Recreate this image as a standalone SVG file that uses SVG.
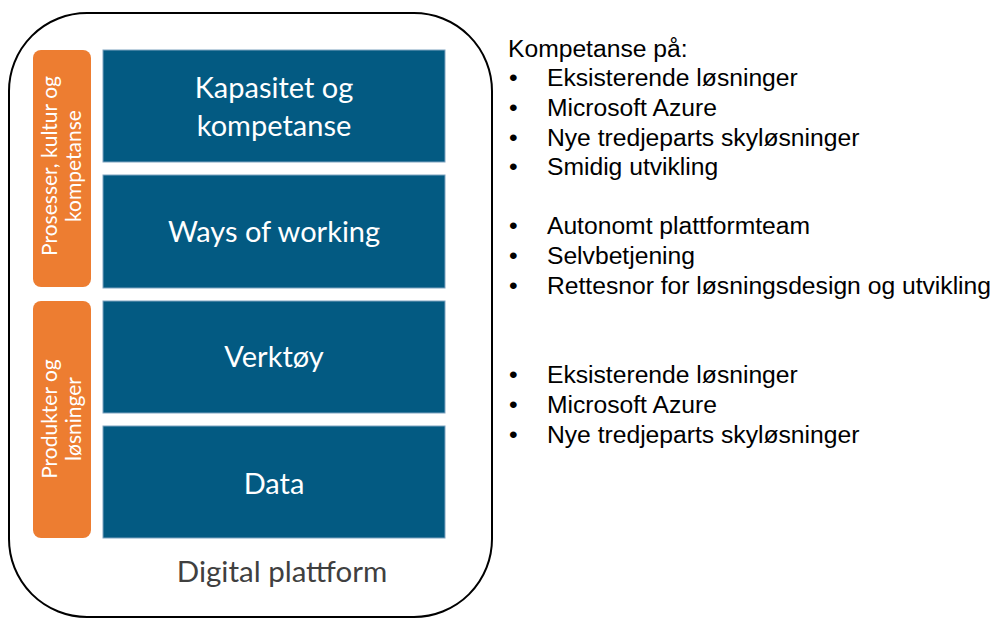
<svg xmlns="http://www.w3.org/2000/svg" width="993" height="618" viewBox="0 0 993 618">
  <style>
    .frame { fill: #ffffff; stroke: #000000; stroke-width: 2; }
    .side { fill: #ED7D31; }
    .layer { fill: #035A82; stroke: #7FA3C0; stroke-width: 1; }
    .layer-text { font-family: Lato, "Open Sans", sans-serif; font-size: 29px; fill: #ffffff; text-anchor: middle; }
    .side-text { font-family: Lato, "Open Sans", sans-serif; font-size: 21px; fill: #ffffff; text-anchor: middle; }
    .caption { font-family: Lato, "Open Sans", sans-serif; font-size: 29.5px; fill: #404040; text-anchor: middle; }
    .list { font-family: "Liberation Sans", Arial, sans-serif; font-size: 23.5px; fill: #000000; }
  </style>
  <rect width="993" height="618" fill="#ffffff"/>

  <!-- platform frame -->
  <g id="platform">
    <rect class="frame" x="9" y="13" width="483" height="604" rx="78" ry="78"/>
    <text class="caption" x="282" y="582">Digital plattform</text>
  </g>

  <!-- side groupings -->
  <g id="side-processes">
    <rect class="side" x="33" y="50" width="58" height="237" rx="8" ry="8"/>
    <g transform="translate(62,166) rotate(-90)">
      <text class="side-text" x="0" y="-5">Prosesser, kultur og</text>
      <text class="side-text" x="0" y="19">kompetanse</text>
    </g>
  </g>
  <g id="side-products">
    <rect class="side" x="33" y="301" width="58" height="237" rx="8" ry="8"/>
    <g transform="translate(62,419) rotate(-90)">
      <text class="side-text" x="0" y="-5">Produkter og</text>
      <text class="side-text" x="0" y="19">løsninger</text>
    </g>
  </g>

  <!-- platform layers -->
  <g id="layer-capacity">
    <rect class="layer" x="103" y="50" width="342" height="112"/>
    <text class="layer-text" x="274" y="98">Kapasitet og</text>
    <text class="layer-text" x="274" y="136">kompetanse</text>
  </g>
  <g id="layer-ways">
    <rect class="layer" x="103" y="175" width="342" height="113"/>
    <text class="layer-text" x="274" y="242">Ways of working</text>
  </g>
  <g id="layer-tools">
    <rect class="layer" x="103" y="301" width="342" height="112"/>
    <text class="layer-text" x="274" y="367">Verktøy</text>
  </g>
  <g id="layer-data">
    <rect class="layer" x="103" y="426" width="342" height="112"/>
    <text class="layer-text" x="274" y="494">Data</text>
  </g>

  <!-- competence list, set slightly wide -->
  <g id="competence-list" class="list" transform="translate(508,0) scale(1.05,1) translate(-508,0)">
    <text x="508" y="57">Kompetanse på:</text>
    <text x="509" y="86">•</text><text x="545.1" y="86">Eksisterende løsninger</text>
    <text x="509" y="116">•</text><text x="545.1" y="116">Microsoft Azure</text>
    <text x="509" y="146">•</text><text x="545.1" y="146">Nye tredjeparts skyløsninger</text>
    <text x="509" y="175">•</text><text x="545.1" y="175">Smidig utvikling</text>

    <text x="509" y="234">•</text><text x="545.1" y="234">Autonomt plattformteam</text>
    <text x="509" y="264">•</text><text x="545.1" y="264">Selvbetjening</text>
    <text x="509" y="294">•</text><text x="545.1" y="294">Rettesnor for løsningsdesign og utvikling</text>

    <text x="509" y="383">•</text><text x="545.1" y="383">Eksisterende løsninger</text>
    <text x="509" y="413">•</text><text x="545.1" y="413">Microsoft Azure</text>
    <text x="509" y="443">•</text><text x="545.1" y="443">Nye tredjeparts skyløsninger</text>
  </g>

  <!-- no connectors in this diagram -->
  <g id="connectors"/>
</svg>
